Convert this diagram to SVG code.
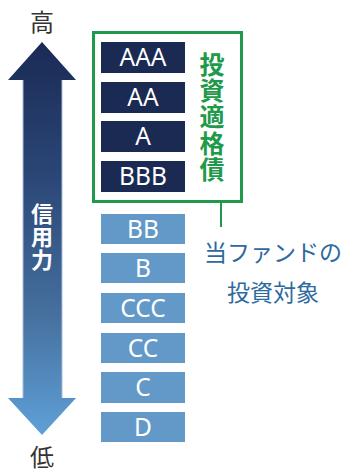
<svg xmlns="http://www.w3.org/2000/svg" width="346" height="470" viewBox="0 0 346 470">
<defs>
<linearGradient id="g" x1="0" y1="42" x2="0" y2="435" gradientUnits="userSpaceOnUse">
<stop offset="0" stop-color="#1a2a55"/>
<stop offset="0.35" stop-color="#2b4777"/>
<stop offset="0.7" stop-color="#46719f"/>
<stop offset="1" stop-color="#5fa0d8"/>
</linearGradient>
<style>
.dk{fill:#1b2a52}
.lt{fill:#6399c8}
.bt{font-family:"Noto Sans","Liberation Sans",sans-serif;font-size:24.5px;fill:#fff;text-anchor:middle}
.cj{font-family:"Noto Sans CJK JP",sans-serif;text-anchor:middle}
.vt{font-family:"Noto Sans CJK JP",sans-serif;writing-mode:vertical-rl;text-anchor:start}
.gr{font-size:25px;font-weight:bold;fill:#1e9a4a;letter-spacing:1.2px}
.wh{font-size:22px;font-weight:bold;fill:#fff;letter-spacing:1px}
.gy{font-size:24px;fill:#333}
.bl{font-size:23px;fill:#2e6aa0}
</style>
</defs>
<g id="arrow">
<polygon points="42,42 76,80 62,80 62,398 76,398 42,435 8,398 23,398 23,80 8,80" fill="url(#g)"/>
<line x1="23" y1="80" x2="23" y2="398" stroke="#a8bcd8" stroke-width="1"/>
<line x1="62" y1="80" x2="62" y2="398" stroke="#a8bcd8" stroke-width="1"/>
<text class="vt wh" x="42" y="203">信用力</text>
</g>
<g id="high"><text class="cj gy" x="42" y="31">高</text></g>
<g id="low"><text class="cj gy" x="42" y="466">低</text></g>
<g id="connectors">
<line x1="221" y1="202" x2="221" y2="227" stroke="#1e9a4a" stroke-width="2"/>
</g>
<g id="investment-grade">
<rect x="93.5" y="32.5" width="148" height="169" fill="none" stroke="#1e9a4a" stroke-width="3"/>
<text class="vt gr" x="212" y="52">投資適格債</text>
</g>
<g id="AAA"><rect class="dk" x="101" y="42" width="84" height="31"/><text class="bt" x="143" y="66">AAA</text></g>
<g id="AA"><rect class="dk" x="101" y="82" width="84" height="31"/><text class="bt" x="143" y="106">AA</text></g>
<g id="A"><rect class="dk" x="101" y="121" width="84" height="31"/><text class="bt" x="143" y="145">A</text></g>
<g id="BBB"><rect class="dk" x="101" y="161" width="84" height="31"/><text class="bt" x="143" y="185">BBB</text></g>
<g id="BB"><rect class="lt" x="101" y="214" width="84" height="30"/><text class="bt" x="143" y="238">BB</text></g>
<g id="B"><rect class="lt" x="101" y="253" width="84" height="30"/><text class="bt" x="143" y="277">B</text></g>
<g id="CCC"><rect class="lt" x="101" y="293" width="84" height="30"/><text class="bt" x="143" y="317">CCC</text></g>
<g id="CC"><rect class="lt" x="101" y="333" width="84" height="30"/><text class="bt" x="143" y="357">CC</text></g>
<g id="C"><rect class="lt" x="101" y="372" width="84" height="31"/><text class="bt" x="143" y="396">C</text></g>
<g id="D"><rect class="lt" x="101" y="412" width="84" height="30"/><text class="bt" x="143" y="436">D</text></g>
<g id="fund-label">
<text class="cj bl" x="273" y="261">当ファンドの</text>
<text class="cj bl" x="273" y="301">投資対象</text>
</g>
</svg>
